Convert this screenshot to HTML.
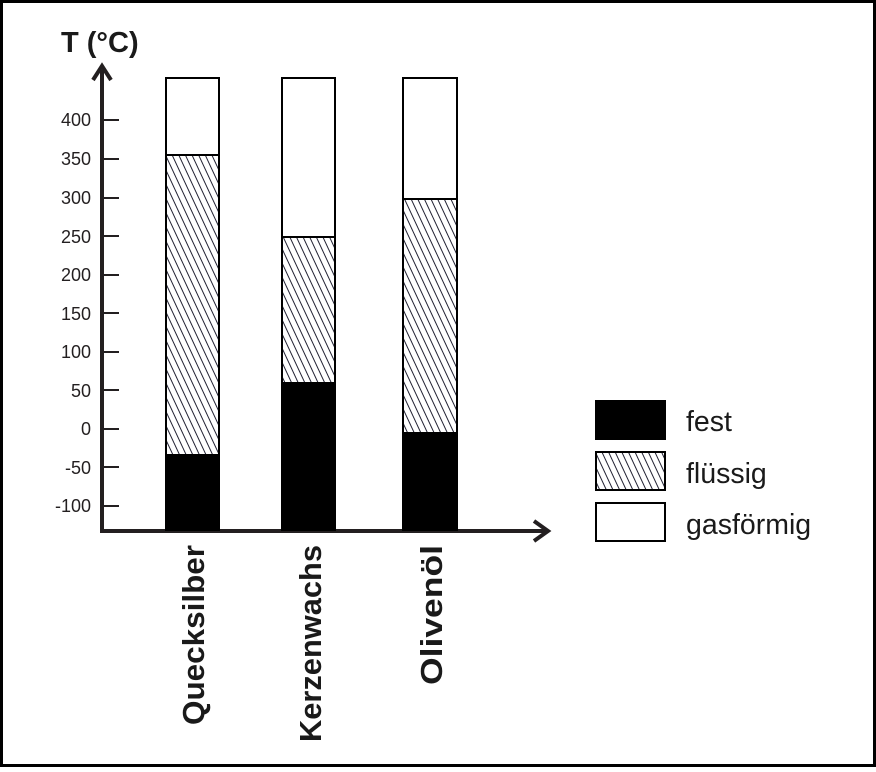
<!DOCTYPE html>
<html><head><meta charset="utf-8"><style>body{margin:0;background:#fff}</style></head><body>
<svg width="876" height="767" xmlns="http://www.w3.org/2000/svg" font-family="Liberation Sans, sans-serif">
<defs><pattern id="h" patternUnits="userSpaceOnUse" width="6" height="6" patternTransform="rotate(-25)"><rect width="6" height="6" fill="#fff"/><line x1="0" y1="0" x2="0" y2="6" stroke="#223" stroke-width="2"/></pattern></defs>
<rect x="1.5" y="1.5" width="873" height="764" fill="#fff" stroke="#000" stroke-width="3"/>
<text x="61" y="52" font-size="29" font-weight="bold" fill="#1a1a1a">T (°C)</text>
<line x1="102" y1="70" x2="102" y2="533" stroke="#231f20" stroke-width="4"/>
<polyline points="93,80 102,66 111,80" fill="none" stroke="#231f20" stroke-width="4"/>
<line x1="100" y1="531" x2="545" y2="531" stroke="#231f20" stroke-width="4"/>
<polyline points="534,521 548,531 534,541" fill="none" stroke="#231f20" stroke-width="4"/>
<g font-size="18" fill="#231f20" text-anchor="end">
<text x="91" y="126">400</text><text x="91" y="165">350</text><text x="91" y="204">300</text><text x="91" y="243">250</text><text x="91" y="281">200</text><text x="91" y="320">150</text><text x="91" y="358">100</text><text x="91" y="397">50</text><text x="91" y="435">0</text><text x="91" y="474">-50</text><text x="91" y="512">-100</text>
</g>
<g stroke="#231f20" stroke-width="2">
<line x1="104" y1="120" x2="119" y2="120"/><line x1="104" y1="159" x2="119" y2="159"/><line x1="104" y1="198" x2="119" y2="198"/><line x1="104" y1="236" x2="119" y2="236"/><line x1="104" y1="275" x2="119" y2="275"/><line x1="104" y1="313" x2="119" y2="313"/><line x1="104" y1="352" x2="119" y2="352"/><line x1="104" y1="390" x2="119" y2="390"/><line x1="104" y1="429" x2="119" y2="429"/><line x1="104" y1="467" x2="119" y2="467"/><line x1="104" y1="506" x2="119" y2="506"/>
</g>
<g stroke="#000" stroke-width="2">
<rect x="166" y="78" width="53" height="77" fill="#fff"/><rect x="166" y="155" width="53" height="300" fill="url(#h)"/><rect x="166" y="455" width="53" height="75" fill="#000"/>
<rect x="282" y="78" width="53" height="159" fill="#fff"/><rect x="282" y="237" width="53" height="146" fill="url(#h)"/><rect x="282" y="383" width="53" height="147" fill="#000"/>
<rect x="403" y="78" width="54" height="121" fill="#fff"/><rect x="403" y="199" width="54" height="234" fill="url(#h)"/><rect x="403" y="433" width="54" height="97" fill="#000"/>
<rect x="596" y="401" width="69" height="38" fill="#000"/><rect x="596" y="452" width="69" height="38" fill="url(#h)"/><rect x="596" y="503" width="69" height="38" fill="#fff"/>
</g>
<g font-size="28.5" fill="#1a1a1a"><text x="686" y="431">fest</text><text x="686" y="483">flüssig</text><text x="686" y="534">gasförmig</text></g>
<g font-size="31" font-weight="bold" fill="#1a1a1a" text-anchor="end">
<text transform="translate(204,545) rotate(-90)" textLength="180" lengthAdjust="spacingAndGlyphs">Quecksilber</text>
<text transform="translate(321,545) rotate(-90)" textLength="197" lengthAdjust="spacingAndGlyphs">Kerzenwachs</text>
<text transform="translate(442,545) rotate(-90)" textLength="140" lengthAdjust="spacingAndGlyphs">Olivenöl</text>
</g>
</svg>
</body></html>
